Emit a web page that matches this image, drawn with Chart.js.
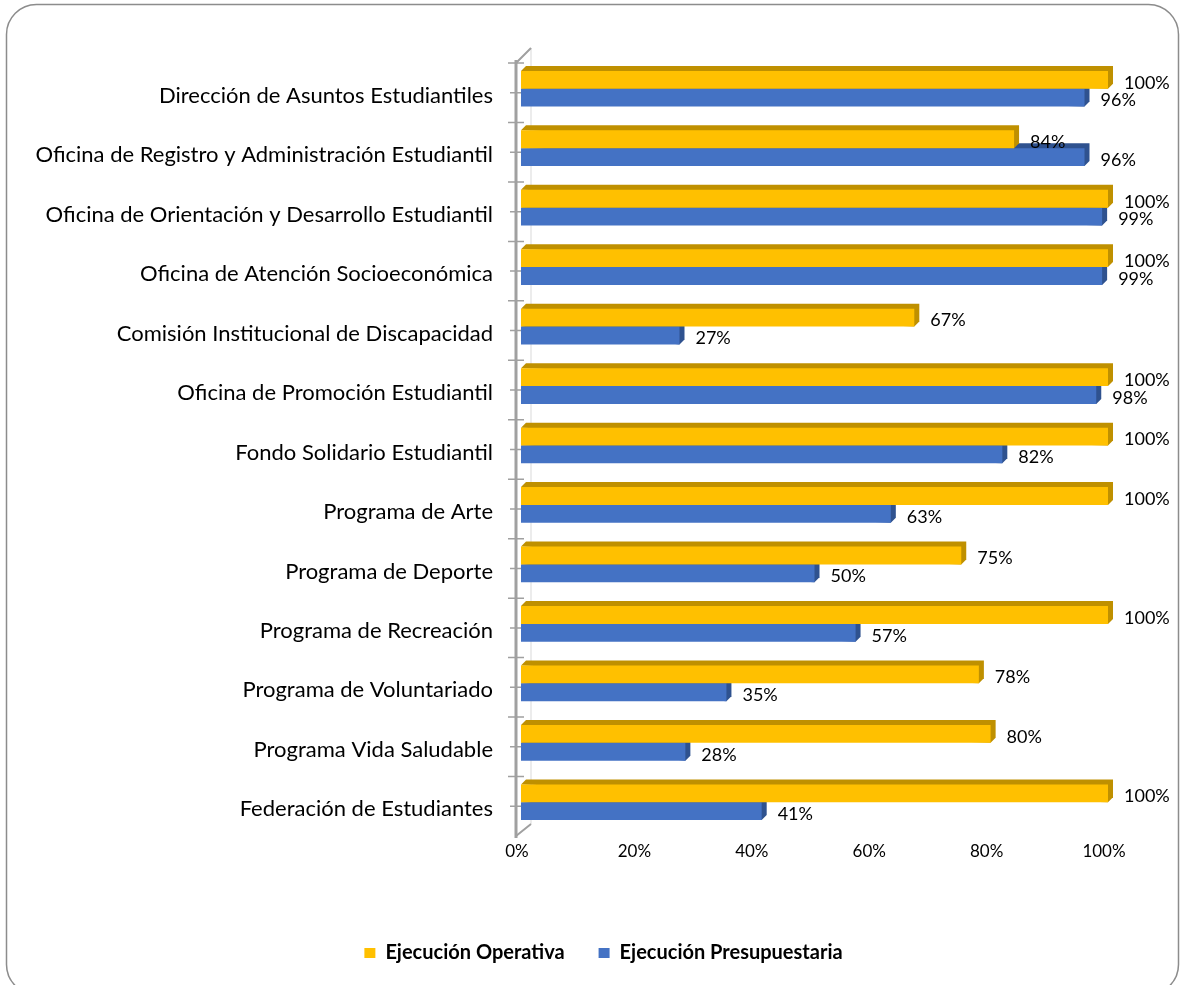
<!DOCTYPE html>
<html>
<head>
<meta charset="utf-8">
<script src="https://cdn.jsdelivr.net/npm/chart.js@4"></script>
<style>
  html, body { margin: 0; padding: 0; background: #fff; }
  #wrap { width: 1181px; height: 985px; position: relative; }
</style>
</head>
<body>
<div id="wrap"><canvas id="ejecucion"></canvas></div>
<script>
const categories = [
  'Dirección de Asuntos Estudiantiles',
  'Oficina de Registro y Administración Estudiantil',
  'Oficina de Orientación y Desarrollo Estudiantil',
  'Oficina de Atención Socioeconómica',
  'Comisión Institucional de Discapacidad',
  'Oficina de Promoción Estudiantil',
  'Fondo Solidario Estudiantil',
  'Programa de Arte',
  'Programa de Deporte',
  'Programa de Recreación',
  'Programa de Voluntariado',
  'Programa Vida Saludable',
  'Federación de Estudiantes'
];
const operativa = [100, 84, 100, 100, 67, 100, 100, 100, 75, 100, 78, 80, 100];
const presupuestaria = [96, 96, 99, 99, 27, 98, 82, 63, 50, 57, 35, 28, 41];
const xTicks = [0, 20, 40, 60, 80, 100];

const FONT = 'Lato, "Liberation Sans", sans-serif';
const LIFT = 4; // bars sit a little above the floor, like the 3d original

// rounded frame round the whole chart
const frame = {
  id: 'frame',
  beforeDraw(chart) {
    const ctx = chart.ctx;
    ctx.save();
    ctx.strokeStyle = '#8c8c8c';
    ctx.lineWidth = 1.5;
    ctx.beginPath();
    ctx.roundRect(6.5, 4.5, 1172, 990, 30);
    ctx.stroke();
    ctx.restore();
  },
  // legend is centred on the whole frame, not on the space left of the right padding
  afterLayout(chart) {
    const lg = chart.legend;
    const shift = (chart.width - lg.right - lg.left) / 2 + 13;
    lg.left += shift;
    lg.right += shift;
  }
};

// 3d look: the wall on the left and the depth faces of each bar
const depth = {
  id: 'depth',
  beforeDatasetsDraw(chart) {
    const ctx = chart.ctx;
    const area = chart.chartArea;
    const y = chart.scales.y;
    const d = 5;
    const wx = area.left - 5;
    ctx.save();
    // back wall edge
    ctx.strokeStyle = '#d9d9d9';
    ctx.lineWidth = 1;
    ctx.beginPath();
    ctx.moveTo(wx + 15, area.top - 15);
    ctx.lineTo(wx + 15, area.bottom - 12);
    ctx.stroke();
    // front wall
    ctx.strokeStyle = '#a0a0a0';
    ctx.lineWidth = 3;
    ctx.beginPath();
    ctx.moveTo(wx, area.top - 3);
    ctx.lineTo(wx, area.bottom + 2);
    ctx.stroke();
    ctx.lineWidth = 2;
    ctx.beginPath();
    ctx.moveTo(wx, area.top);
    ctx.lineTo(wx + 15, area.top - 15);
    ctx.moveTo(wx, area.bottom);
    ctx.lineTo(wx + 15, area.bottom - 12);
    ctx.stroke();
    const step = (y.getPixelForValue(1) - y.getPixelForValue(0));
    ctx.lineWidth = 1.5;
    ctx.beginPath();
    for (let i = 0; i < categories.length; i++) {
      const c = y.getPixelForValue(i);
      const b = c - step / 2;
      ctx.moveTo(wx - 8, b); ctx.lineTo(wx + 8, b);
      ctx.moveTo(wx - 6, c); ctx.lineTo(wx + 5, c);
    }
    ctx.stroke();
    // bar depth faces, back dataset first
    ctx.translate(0, -LIFT);
    for (let di = chart.data.datasets.length - 1; di >= 0; di--) {
      const ds = chart.data.datasets[di];
      const meta = chart.getDatasetMeta(di);
      ctx.fillStyle = ds.sideColor;
      meta.data.forEach(bar => {
        const x0 = bar.base, x1 = bar.x;
        const top = bar.y - bar.height / 2, bot = bar.y + bar.height / 2;
        ctx.beginPath();
        ctx.moveTo(x0, top);
        ctx.lineTo(x0 + d, top - d);
        ctx.lineTo(x1 + d, top - d);
        ctx.lineTo(x1 + d, bot - d);
        ctx.lineTo(x1, bot);
        ctx.closePath();
        ctx.fill();
      });
    }
    ctx.restore();
  },
  beforeDatasetDraw(chart) {
    chart.ctx.save();
    chart.ctx.translate(0, -LIFT);
  },
  afterDatasetDraw(chart) {
    chart.ctx.restore();
  }
};

// value labels at the end of each bar
const valueLabels = {
  id: 'valueLabels',
  afterDatasetsDraw(chart) {
    const ctx = chart.ctx;
    ctx.save();
    ctx.font = '18px ' + FONT;
    ctx.fillStyle = '#000';
    ctx.textAlign = 'left';
    ctx.textBaseline = 'middle';
    chart.data.datasets.forEach((ds, di) => {
      chart.getDatasetMeta(di).data.forEach((bar, i) => {
        ctx.fillText(ds.data[i] + '%', bar.x + 16, bar.y - LIFT + 3);
      });
    });
    ctx.restore();
  }
};

new Chart(document.getElementById('ejecucion'), {
  type: 'bar',
  data: {
    labels: categories,
    datasets: [
      {
        label: 'Ejecución Operativa',
        data: operativa,
        backgroundColor: '#FFC000',
        sideColor: '#BF9000',
        categoryPercentage: 0.6,
        barPercentage: 1
      },
      {
        label: 'Ejecución Presupuestaria',
        data: presupuestaria,
        backgroundColor: '#4472C4',
        sideColor: '#2F528F',
        categoryPercentage: 0.6,
        barPercentage: 1
      }
    ]
  },
  options: {
    indexAxis: 'y',
    responsive: true,
    maintainAspectRatio: false,
    animation: false,
    layout: { padding: { left: 0, right: 73, top: 63, bottom: 12 } },
    scales: {
      x: {
        min: 0,
        max: 100,
        afterBuildTicks: s => { s.ticks = xTicks.map(v => ({ value: v })); },
        afterFit: s => { s.height = 73; },
        ticks: {
          callback: v => v + '%',
          font: { family: FONT, size: 17 },
          color: '#000',
          padding: 5,
          labelOffset: -4
        },
        grid: { display: false, drawTicks: false },
        border: { display: false }
      },
      y: {
        afterFit: s => { s.width = 521; },
        ticks: {
          font: { family: FONT, size: 22 },
          color: '#000',
          padding: 28,
          labelOffset: 3
        },
        grid: { display: false, drawTicks: false },
        border: { display: false }
      }
    },
    plugins: {
      legend: {
        position: 'bottom',
        labels: {
          boxWidth: 11,
          boxHeight: 10,
          padding: 34,
          color: '#000',
          font: { family: FONT, size: 20, weight: 'bold' }
        }
      },
      tooltip: { enabled: false }
    }
  },
  plugins: [frame, depth, valueLabels]
});
</script>
</body>
</html>
